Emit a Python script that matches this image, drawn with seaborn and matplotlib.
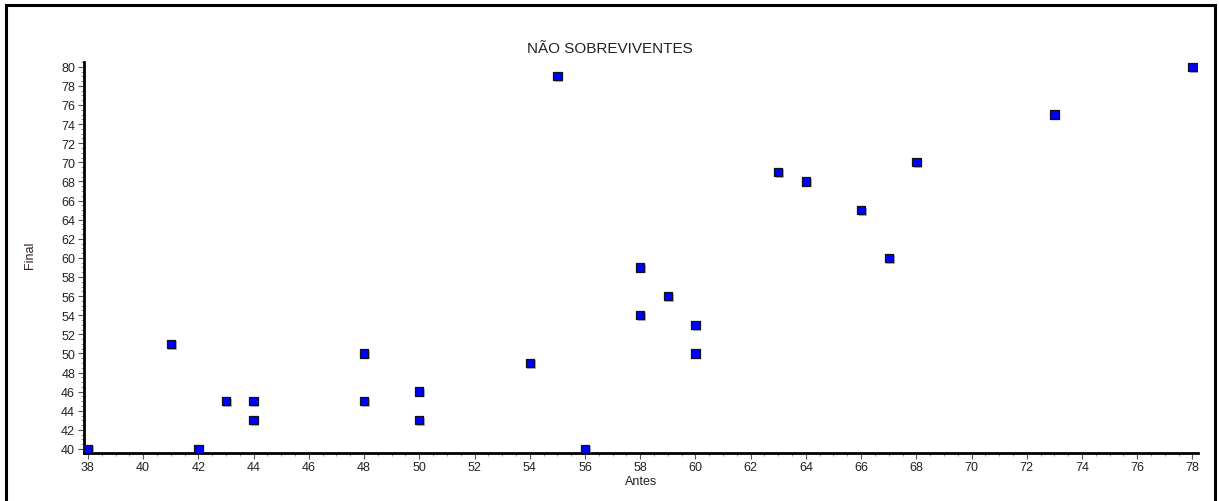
import matplotlib
matplotlib.use("Agg")
import matplotlib.pyplot as plt
import matplotlib.patheffects as pe
from matplotlib.patches import Rectangle
from matplotlib.ticker import MultipleLocator
import seaborn as sns
import pandas as pd

antes = [38, 41, 42, 43, 44, 44, 48, 48, 50, 50, 54, 55, 56, 58, 58, 59, 60, 60,
         63, 64, 66, 67, 68, 73, 78]
final = [40, 51, 40, 45, 45, 43, 50, 45, 46, 43, 49, 79, 40, 59, 54, 56, 53, 50,
         69, 68, 65, 60, 70, 75, 80]
title = "NÃO SOBREVIVENTES"
xlabel = "Antes"
ylabel = "Final"

df = pd.DataFrame({"Antes": antes, "Final": final})

sns.set_style("white")
plt.rcParams["font.family"] = ["Liberation Sans", "DejaVu Sans"]

fig = plt.figure(figsize=(12.19, 5.02), dpi=100)
ax = fig.add_axes([83.5 / 1219, 1 - 454 / 502, (1198 - 83.5) / 1219, (454 - 63) / 502])

sns.scatterplot(data=df, x="Antes", y="Final", marker="s", s=36, color="#0000FF",
                edgecolor="#101020", linewidth=0.9, ax=ax, zorder=3,
                path_effects=[pe.SimplePatchShadow(offset=(1.2, -1.2), shadow_rgbFace="#888888", alpha=0.6),
                              pe.Normal()])

ax.set_xlim(37.84, 78.2)
ax.set_ylim(39.58, 80.5)
ax.xaxis.set_major_locator(MultipleLocator(2))
ax.xaxis.set_minor_locator(MultipleLocator(0.5))
ax.yaxis.set_major_locator(MultipleLocator(2))
ax.yaxis.set_minor_locator(MultipleLocator(0.5))
ax.tick_params(axis="both", which="major", direction="out", length=4, width=0.8,
               color="#555555", labelsize=9, labelcolor="#222222", pad=2,
               bottom=True, left=True)
ax.tick_params(axis="both", which="minor", direction="out", length=2, width=0.6,
               color="#888888", bottom=True, left=True)

for s in ["top", "right"]:
    ax.spines[s].set_visible(False)
for s in ["left", "bottom"]:
    ax.spines[s].set_color("black")
    ax.spines[s].set_linewidth(2)

ax.set_xlabel(xlabel, fontsize=9, color="#222222", labelpad=1)
ax.set_ylabel("")
fig.text(30 / 1219, 1 - 255 / 502, ylabel, rotation=90, fontsize=9, color="#302020",
         ha="center", va="center")
fig.text(610 / 1219, 1 - 49 / 502, title, fontsize=11, color="#222222",
         ha="center", va="center")

fig.patches.append(Rectangle((6 / 1219, -0.02), (1215 - 6) / 1219, 1.02 - 5.5 / 502,
                             transform=fig.transFigure, fill=False,
                             edgecolor="black", linewidth=2.2, zorder=10))

fig.savefig("out.png", dpi=100)
